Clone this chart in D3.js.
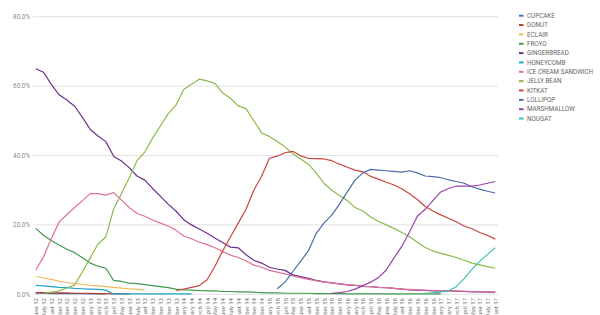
<!DOCTYPE html>
<html><head><meta charset="utf-8">
<script src="https://cdn.jsdelivr.net/npm/d3@7"></script>
<style>body{margin:0;background:#fff;}svg{display:block;font-family:Roboto,"Noto Sans",sans-serif;}</style>
</head><body><svg id="c" width="600" height="315"></svg>
<script>
const months = ["June 12","July 12","August 12","September 12","October 12","November 12","December 12",
"January 13","February 13","March 13","April 13","May 13","June 13","July 13","August 13","September 13","October 13","November 13","December 13",
"January 14","February 14","March 14","April 14","May 14","June 14","July 14","August 14","September 14","November 14","December 14",
"February 15","March 15","April 15","May 15","June 15","August 15","September 15","October 15","November 15","December 15",
"January 16","February 16","March 16","April 16","May 16","June 16","July 16","August 16","September 16","October 16","November 16","December 16",
"January 17","February 17","March 17","April 17","May 17","June 17","July 17","August 17"];
const yTicks = [0,20,40,60,80];
const seriesNames = ["CUPCAKE","DONUT","ECLAIR","FROYO","GINGERBREAD","HONEYCOMB","ICE CREAM SANDWICH","JELLY BEAN","KITKAT","LOLLIPOP","MARSHMALLOW","NOUGAT"];
const seriesColors = ["#3f72bd","#c0392b","#f4b860","#3e9a4a","#6a2f8f","#1fa3c9","#e0709a","#8bbb4a","#c8473f","#4a6ea8","#9c3fae","#40bfae"];
// values indexed by month; null = no data
const cupcake = [0.3,0.3,0.2,0.2,0.2,0.2,0.2,0.1,0.1,0.1];
const donut = [0.5,0.5,0.4,0.4,0.4,0.3,0.3,0.3,0.2,0.2,0.1,0.1,0.1];
const eclair = [5.2,4.7,4.3,3.8,3.4,3.1,2.9,2.6,2.4,2.2,2.0,1.8,1.6,1.4,1.2];
const froyo = [19.0,17.0,15.5,14.2,13.0,12.0,10.5,9.0,8.1,7.5,4.0,3.7,3.2,3.1,2.8,2.5,2.2,1.9,1.5,1.3,1.2,1.1,1.0,1.0,0.8,0.8,0.7,0.7,0.6,0.5,0.4,0.4,0.3,0.3,0.3,0.3,0.2,0.2,0.2,0.2,0.1,0.1,0.1,0.1,0.1,0.1,0.1,0.1,0.1,0.1,0.1,0.1,0.1];
const gingerbread = [65.0,64.0,60.5,57.5,56.0,54.2,51.0,47.5,45.6,44.0,39.8,38.4,36.5,34.1,32.9,30.5,28.3,26.0,24.0,21.5,20.0,18.8,17.6,16.2,14.9,13.6,13.4,11.4,9.8,9.0,7.8,7.3,6.9,5.6,5.1,4.6,4.0,3.6,3.3,3.0,2.7,2.6,2.3,2.2,2.0,1.9,1.7,1.5,1.3,1.2,1.1,1.0,1.0,1.0,0.9,0.8,0.7,0.7,0.6,0.6];
const honeycomb = [2.6,2.4,2.2,2.0,1.9,1.7,1.6,1.5,1.4,1.2,0.1,0.1,0.1,0.1,0.1,0.1,0.1,0.1,0.1,0.1,0.1];
const ics = [7.0,10.8,16.0,20.8,23.0,25.0,27.0,29.0,29.0,28.6,29.3,27.2,25.0,23.3,22.5,21.4,20.5,19.7,18.5,16.8,16.0,15.0,14.3,13.4,12.3,11.3,10.6,9.6,8.4,7.8,6.9,6.4,5.9,5.3,4.8,4.3,3.9,3.5,3.3,3.0,2.8,2.6,2.3,2.2,2.0,1.9,1.7,1.5,1.4,1.3,1.2,1.1,1.0,1.0,0.9,0.9,0.8,0.7,0.7,0.6];
const jellyBean = [null,0.3,0.6,1.0,1.8,2.7,6.5,10.5,14.5,16.5,24.5,29.0,33.5,38.5,41.0,45.0,48.5,52.0,54.5,59.0,60.5,62.0,61.5,60.8,58.0,56.5,54.3,53.5,50.0,46.5,45.5,44.0,42.5,40.5,39.0,37.5,35.0,32.0,30.0,28.5,27.0,25.0,24.0,22.3,21.0,20.0,19.0,17.8,16.6,15.0,13.5,12.5,11.8,11.2,10.6,9.8,9.0,8.5,8.0,7.5];
const kitkat = [null,null,null,null,null,null,null,null,null,null,null,null,null,null,null,null,null,null,1.1,1.5,2.0,2.5,4.2,8.0,12.5,16.5,20.5,24.5,30.0,34.0,39.2,39.8,40.8,41.2,39.9,39.2,39.1,39.0,38.5,37.5,36.6,35.8,35.3,34.0,33.2,32.3,31.5,30.4,29.0,27.3,25.3,24.0,22.9,21.9,20.9,19.7,18.9,17.8,17.0,15.9];
const lollipop = [null,null,null,null,null,null,null,null,null,null,null,null,null,null,null,null,null,null,null,null,null,null,null,null,null,null,null,null,null,null,null,1.6,3.5,6.5,9.5,12.5,17.5,20.5,22.8,26.0,29.5,32.9,35.0,36.0,35.8,35.6,35.4,35.2,35.6,35.0,34.1,33.9,33.6,33.0,32.5,32.0,31.0,30.3,29.7,29.2];
const marshmallow = [null,null,null,null,null,null,null,null,null,null,null,null,null,null,null,null,null,null,null,null,null,null,null,null,null,null,null,null,null,null,null,null,null,null,null,null,null,null,0.3,0.5,0.8,1.5,2.5,3.5,4.8,7.0,10.5,13.8,18.0,22.5,24.5,27.0,29.5,30.5,31.2,31.2,31.2,31.5,32.0,32.5];
const nougat = [null,null,null,null,null,null,null,null,null,null,null,null,null,null,null,null,null,null,null,null,null,null,null,null,null,null,null,null,null,null,null,null,null,null,null,null,null,null,null,null,null,null,null,null,null,null,null,null,null,null,0.3,0.4,0.7,1.0,2.2,4.5,7.2,9.5,11.5,13.4];
const seriesValues = [cupcake,donut,eclair,froyo,gingerbread,honeycomb,ics,jellyBean,kitkat,lollipop,marshmallow,nougat];

const svg = d3.select("#c");
const x = d3.scalePoint().domain(months).range([33,498]).padding(0.35);
const y = d3.scaleLinear().domain([0,80]).range([294.3,16.7]);

// grid
svg.append("g").selectAll("line").data(yTicks).join("line")
  .attr("x1",33).attr("x2",498).attr("y1",d=>y(d)).attr("y2",d=>y(d))
  .attr("stroke","#e2e2e2").attr("stroke-width",1);
// y labels
svg.append("g").selectAll("text").data(yTicks).join("text")
  .attr("x",30).attr("y",d=>y(d)).attr("dy","0.35em").attr("text-anchor","end")
  .attr("font-size",6.3).attr("fill","#888").text(d=>d.toFixed(1)+"%");
// x axis
const xa = svg.append("g").attr("transform","translate(0,296)")
  .call(d3.axisBottom(x).tickSize(0).tickPadding(0));
xa.select(".domain").remove();
xa.selectAll("text").attr("transform","rotate(-90)").attr("text-anchor","end")
  .attr("x",-2).attr("y",0).attr("dy","0.35em").attr("font-size",6).attr("fill","#777")
  .attr("font-family","Roboto, sans-serif");

const line = d3.line().defined(d=>d.v!=null).x(d=>x(d.m)).y(d=>y(d.v));
seriesNames.forEach((name,k)=>{
  const pts = seriesValues[k].map((v,i)=>({m:months[i],v:v}));
  svg.append("path").datum(pts).attr("d",line).attr("fill","none")
    .attr("stroke",seriesColors[k]).attr("stroke-width",1.2).attr("stroke-linejoin","round");
});

// legend
const lg = svg.append("g").selectAll("g").data(seriesNames).join("g")
  .attr("transform",(d,i)=>`translate(519,${15.7+i*9.35})`);
lg.append("line").attr("x1",0).attr("x2",4.5).attr("y1",0).attr("y2",0)
  .attr("stroke",(d,i)=>seriesColors[i]).attr("stroke-width",2);
lg.append("text").attr("x",8).attr("y",0).attr("dy","0.35em").attr("font-size",6.3)
  .attr("fill","#666").text(d=>d);
</script></body></html>
